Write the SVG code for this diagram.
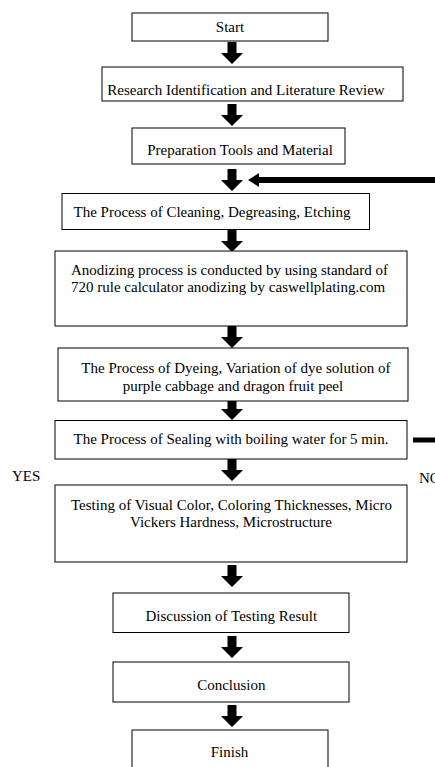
<svg xmlns="http://www.w3.org/2000/svg" xmlns:xlink="http://www.w3.org/1999/xlink" width="435" height="767" viewBox="0 0 435 767">
<style>
  .box { fill: #ffffff; stroke: #000000; stroke-width: 1; }
  .t { font-family: "Liberation Serif", "Times New Roman", serif; font-size: 15px; fill: #000000; }
  .c { text-anchor: middle; }
  .arr { fill: #000000; }
</style>
<defs>
  <path id="darrow" d="M-4.5,0 H4.5 V11 H11 L0,22 L-11,11 H-4.5 Z"/>
</defs>
<rect width="435" height="767" fill="#ffffff"/>

<g id="connectors" class="arr">
  <use xlink:href="#darrow" href="#darrow" x="232" y="42"/>
  <use xlink:href="#darrow" href="#darrow" x="232" y="104"/>
  <use xlink:href="#darrow" href="#darrow" x="232" y="169"/>
  <use xlink:href="#darrow" href="#darrow" x="232" y="230"/>
  <use xlink:href="#darrow" href="#darrow" x="232" y="326"/>
  <use xlink:href="#darrow" href="#darrow" x="232" y="398"/>
  <use xlink:href="#darrow" href="#darrow" x="232" y="459"/>
  <use xlink:href="#darrow" href="#darrow" x="232" y="565"/>
  <use xlink:href="#darrow" href="#darrow" x="232" y="636"/>
  <use xlink:href="#darrow" href="#darrow" x="232" y="705"/>
  <path id="loop-back" d="M248,180 L259,173 V177 H435 V183 H259 V187 Z"/>
  <rect id="no-exit" x="413" y="437.5" width="22" height="5"/>
</g>

<g id="start">
  <rect class="box" x="132" y="13" width="196" height="28"/>
  <text class="t c" x="230" y="32">Start</text>
</g>
<g id="research">
  <rect class="box" x="102" y="67" width="301" height="34"/>
  <text class="t c" x="246" y="95">Research Identification and Literature Review</text>
</g>
<g id="preparation">
  <rect class="box" x="132" y="128" width="213" height="36"/>
  <text class="t c" x="240" y="155">Preparation Tools and Material</text>
</g>
<g id="cleaning">
  <rect class="box" x="62" y="193.5" width="307.5" height="36"/>
  <text class="t c" x="212" y="217">The Process of Cleaning, Degreasing, Etching</text>
</g>
<g id="anodizing">
  <rect class="box" x="55" y="251" width="352" height="75"/>
  <text class="t" x="71" y="275">Anodizing process is conducted by using standard of</text>
  <text class="t" x="71" y="292">720 rule calculator anodizing by caswellplating.com</text>
</g>
<g id="dyeing">
  <rect class="box" x="58" y="348" width="350" height="53"/>
  <text class="t c" x="236" y="373">The Process of Dyeing, Variation of dye solution of</text>
  <text class="t c" x="233" y="391">purple cabbage and dragon fruit peel</text>
</g>
<g id="sealing">
  <rect class="box" x="55" y="420.5" width="352" height="38.5"/>
  <text class="t c" x="231" y="444">The Process of Sealing with boiling water for 5 min.</text>
</g>
<g id="yes-label">
  <text class="t" x="12" y="481">YES</text>
</g>
<g id="no-label">
  <text class="t" x="419" y="483">NO</text>
</g>
<g id="testing">
  <rect class="box" x="55" y="485" width="352" height="77"/>
  <text class="t c" x="231.5" y="510">Testing of Visual Color, Coloring Thicknesses, Micro</text>
  <text class="t c" x="231" y="527">Vickers Hardness, Microstructure</text>
</g>
<g id="discussion">
  <rect class="box" x="113" y="593" width="236" height="39.5"/>
  <text class="t c" x="231.3" y="621">Discussion of Testing Result</text>
</g>
<g id="conclusion">
  <rect class="box" x="113" y="662" width="236" height="40"/>
  <text class="t c" x="231.3" y="690">Conclusion</text>
</g>
<g id="finish">
  <rect class="box" x="132" y="730" width="196" height="45"/>
  <text class="t c" x="229.5" y="757">Finish</text>
</g>
</svg>
